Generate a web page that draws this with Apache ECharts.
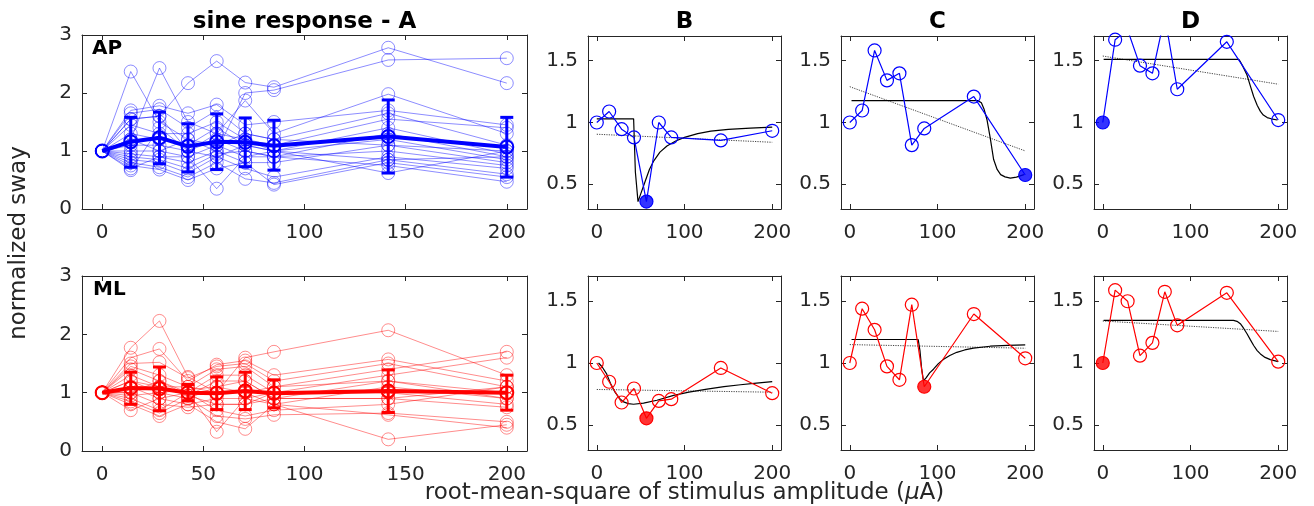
<!DOCTYPE html>
<html><head><meta charset="utf-8">
<script src="https://cdn.jsdelivr.net/npm/echarts@6/dist/echarts.min.js"></script>
<style>html,body{margin:0;padding:0;background:#fff}#c{width:1314px;height:506px}</style>
</head><body><div id="c"></div>
<script>
// ---------------- DATA ----------------
const amplitudes = [0, 14.1, 28.3, 42.4, 56.6, 70.7, 84.9, 141.4, 200];

const apSubjects = [
  [1, 1.55, 1.60, 2.17, 2.55, 2.18, 2.10, 2.78, 2.17],
  [1, 2.37, 1.50, 1.20, 1.00, 2.00, 2.05, 2.57, 2.60],
  [1, 1.20, 2.43, 1.50, 1.30, 1.87, 1.30, 1.98, 1.30],
  [1, 1.70, 1.78, 1.65, 1.80, 1.45, 1.50, 1.70, 1.45],
  [1, 1.65, 1.72, 1.40, 1.70, 1.30, 1.20, 1.65, 1.10],
  [1, 1.45, 1.30, 1.30, 1.50, 1.20, 1.10, 1.55, 1.40],
  [1, 1.30, 1.20, 1.10, 1.40, 1.10, 1.00, 1.40, 0.95],
  [1, 1.10, 1.10, 1.00, 1.20, 1.00, 0.90, 1.30, 0.90],
  [1, 1.00, 1.00, 0.90, 1.10, 0.90, 1.00, 1.20, 0.85],
  [1, 0.95, 0.90, 0.80, 1.00, 0.80, 0.80, 1.10, 0.80],
  [1, 0.90, 0.85, 0.70, 0.95, 1.00, 0.90, 1.00, 0.75],
  [1, 0.85, 0.80, 0.62, 0.90, 0.70, 0.55, 0.90, 0.70],
  [1, 0.80, 0.72, 0.55, 0.80, 0.52, 0.45, 0.85, 0.60],
  [1, 0.75, 0.68, 0.50, 0.70, 0.80, 0.42, 0.80, 0.55],
  [1, 0.70, 0.90, 0.90, 0.35, 0.90, 0.90, 0.75, 0.47],
  [1, 0.67, 1.40, 1.00, 0.90, 1.10, 1.00, 0.62, 1.00],
  [1, 1.55, 1.60, 1.00, 1.30, 1.20, 1.00, 0.85, 0.90],
  [1, 1.20, 1.00, 1.20, 1.10, 1.30, 1.20, 1.10, 1.00]
];
const mlSubjects = [
  [1, 1.77, 2.23, 1.27, 1.00, 1.60, 1.70, 2.07, 1.30],
  [1, 1.60, 1.75, 1.20, 1.48, 1.55, 1.30, 1.57, 1.20],
  [1, 1.50, 1.52, 1.25, 1.45, 1.50, 1.20, 1.50, 1.10],
  [1, 1.45, 1.30, 1.10, 1.40, 1.45, 1.10, 1.40, 1.70],
  [1, 1.40, 1.20, 1.00, 1.30, 1.30, 1.00, 1.30, 1.60],
  [1, 1.30, 1.10, 0.95, 1.20, 1.20, 0.90, 1.20, 1.00],
  [1, 1.20, 1.00, 0.90, 1.10, 1.00, 0.80, 1.10, 0.90],
  [1, 1.10, 0.90, 0.80, 0.90, 0.90, 1.00, 1.00, 0.80],
  [1, 1.00, 0.80, 0.75, 0.80, 0.80, 0.90, 0.90, 0.75],
  [1, 0.90, 0.70, 1.00, 0.70, 0.60, 0.70, 0.80, 1.10],
  [1, 0.85, 0.65, 0.90, 0.60, 0.55, 0.62, 0.65, 0.50],
  [1, 0.80, 0.60, 0.80, 0.50, 0.38, 0.80, 0.62, 0.40],
  [1, 0.70, 0.90, 1.00, 0.33, 0.90, 0.80, 0.20, 0.45],
  [1, 1.20, 1.10, 1.10, 1.00, 1.00, 1.10, 1.20, 0.90],
  [1, 1.00, 1.20, 0.95, 0.80, 0.80, 1.00, 1.00, 1.00],
  [1, 0.95, 1.00, 1.05, 1.10, 1.20, 0.90, 0.90, 1.10]
];

const apMean  = [1, 1.16, 1.23, 1.08, 1.16, 1.15, 1.09, 1.25, 1.07];
const apUpper = [null, 1.58, 1.67, 1.47, 1.64, 1.57, 1.53, 1.88, 1.58];
const apLower = [null, 0.72, 0.78, 0.64, 0.68, 0.73, 0.67, 0.62, 0.55];
const mlMean  = [1, 1.08, 1.07, 1.00, 0.99, 1.03, 0.99, 1.03, 1.00];
const mlUpper = [null, 1.35, 1.44, 1.14, 1.27, 1.35, 1.22, 1.39, 1.30];
const mlLower = [null, 0.80, 0.69, 0.86, 0.71, 0.71, 0.74, 0.66, 0.70];

// example subjects (B, C, D)
const exB_AP = [1.00, 1.089, 0.946, 0.879, 0.36, 1.00, 0.879, 0.855, 0.933];
const exC_AP = [1.00, 1.097, 1.583, 1.341, 1.398, 0.817, 0.952, 1.21, 0.575];
const exD_AP = [1.00, 1.67, 1.75, 1.46, 1.398, 1.86, 1.269, 1.653, 1.02];
const exB_ML = [1.00, 0.849, 0.682, 0.795, 0.555, 0.695, 0.709, 0.96, 0.757];
const exC_ML = [1.00, 1.437, 1.267, 0.973, 0.865, 1.469, 0.809, 1.394, 1.038];
const exD_ML = [1.00, 1.586, 1.497, 1.059, 1.162, 1.573, 1.303, 1.565, 1.011];
const filledIdx = {B_AP: 4, C_AP: 8, D_AP: 0, B_ML: 4, C_ML: 6, D_ML: 0};

// fitted curves ([amplitude, sway])
const fitB_AP = [[0,1.03],[42,1.03],[44,0.6],[47,0.36],[50,0.42],[55,0.52],[60,0.62],[65,0.69],[72,0.76],[80,0.81],[90,0.85],[100,0.88],[115,0.91],[130,0.93],[150,0.945],[175,0.955],[200,0.962]];
const fitC_AP = [[2,1.177],[146,1.177],[150,1.16],[153,1.11],[156.5,1.02],[160,0.88],[164,0.70],[168,0.62],[172,0.578],[177,0.56],[183,0.55],[190,0.558],[198.5,0.578]];
const fitD_AP = [[1,1.511],[155,1.511],[157,1.49],[160,1.45],[164.4,1.384],[168,1.30],[172,1.21],[176,1.14],[179.7,1.09],[183,1.06],[187.4,1.04],[192,1.03],[199,1.02]];
const fitB_ML = [[2,1.0],[6,0.97],[11.4,0.91],[16,0.83],[21,0.763],[26,0.715],[30.5,0.687],[36,0.673],[41.9,0.668],[53.3,0.677],[68.6,0.70],[87.6,0.74],[105,0.765],[125.7,0.79],[145,0.81],[163.8,0.825],[182,0.838],[200,0.85]];
const fitC_ML = [[2,1.189],[78,1.189],[80,1.10],[82,0.95],[84,0.857],[87,0.88],[91,0.92],[95.4,0.95],[101,0.995],[107,1.03],[114,1.06],[122,1.086],[131,1.105],[141,1.12],[160,1.135],[180,1.142],[200,1.146]];
const fitD_ML = [[1,1.343],[149,1.343],[153,1.335],[156.8,1.316],[160.5,1.28],[164.4,1.235],[168,1.19],[172,1.141],[176,1.10],[179.7,1.073],[185,1.045],[191,1.027],[200,1.011]];

// linear trends ([amplitude, sway] end points)
const trendB_AP = [[0,0.905],[200,0.84]];
const trendC_AP = [[0,1.29],[200,0.77]];
const trendD_AP = [[0,1.538],[200,1.31]];
const trendB_ML = [[0,0.787],[200,0.765]];
const trendC_ML = [[0,1.148],[200,1.119]];
const trendD_ML = [[0,1.338],[200,1.254]];

const xTicksA = [0, 50, 100, 150, 200];
const yTicksA = [0, 1, 2, 3];
const xTicksEx = [0, 100, 200];
const yTicksEx = [0.5, 1, 1.5];

// ---------------- CHART ----------------
const FONT = '"DejaVu Sans", sans-serif';
const AX = '#262626';
const BLUE = '#0000ff', RED = '#ff0000';
const BLUE_L = 'rgba(0,0,255,0.45)', RED_L = 'rgba(255,0,0,0.45)';
const grids = [], xAxes = [], yAxes = [], series = [];

function addPanel(rect, xr, xt, yr, yt) {
  const gi = grids.length;
  grids.push({left: rect[0], top: rect[1], width: rect[2], height: rect[3]});
  const tick = {inside: true, length: 5, lineStyle: {color: AX, width: 1}};
  const line = {show: true, onZero: false, lineStyle: {color: AX, width: 1}};
  const lab = {color: AX, fontSize: 20, fontFamily: FONT};
  xAxes.push({gridIndex: gi, type: 'value', position: 'bottom', min: xr[0], max: xr[1], axisLine: line, splitLine: {show: false},
    axisTick: Object.assign({}, tick, {customValues: xt}), axisLabel: Object.assign({}, lab, {margin: 14, customValues: xt})});
  xAxes.push({gridIndex: gi, type: 'value', position: 'top', min: xr[0], max: xr[1], axisLine: line, splitLine: {show: false},
    axisTick: Object.assign({}, tick, {customValues: xt}), axisLabel: {show: false}});
  yAxes.push({gridIndex: gi, type: 'value', position: 'left', min: yr[0], max: yr[1], axisLine: line, splitLine: {show: false},
    axisTick: Object.assign({}, tick, {customValues: yt}), axisLabel: Object.assign({}, lab, {margin: 10, customValues: yt})});
  yAxes.push({gridIndex: gi, type: 'value', position: 'right', min: yr[0], max: yr[1], axisLine: line, splitLine: {show: false},
    axisTick: Object.assign({}, tick, {customValues: yt}), axisLabel: {show: false}});
  return 2 * gi;
}

function pts(ys) { return amplitudes.map((x, i) => [x, ys[i]]); }

function groupPanel(rect, subjects, mean, lower, upper, light, dark) {
  const ai = addPanel(rect, [-10, 210], xTicksA, [0, 3], yTicksA);
  subjects.forEach(s => series.push({
    type: 'line', xAxisIndex: ai, yAxisIndex: ai, data: pts(s), symbol: 'circle', symbolSize: 13,
    itemStyle: {color: 'rgba(0,0,0,0)', borderColor: light, borderWidth: 1}, lineStyle: {color: light, width: 1},
    z: 2, silent: true
  }));
  series.push({
    type: 'custom', xAxisIndex: ai, yAxisIndex: ai, z: 4, silent: true,
    data: amplitudes.map((x, i) => [x, lower[i], upper[i]]).filter(d => d[1] != null),
    encode: {x: 0, y: [1, 2]},
    renderItem: (params, api) => {
      const x = api.value(0);
      const a = api.coord([x, api.value(1)]), b = api.coord([x, api.value(2)]);
      const hw = 6.5, st = {stroke: dark, lineWidth: 3};
      return {type: 'group', children: [
        {type: 'line', shape: {x1: a[0], y1: a[1], x2: b[0], y2: b[1]}, style: st},
        {type: 'line', shape: {x1: a[0] - hw, y1: a[1], x2: a[0] + hw, y2: a[1]}, style: st},
        {type: 'line', shape: {x1: b[0] - hw, y1: b[1], x2: b[0] + hw, y2: b[1]}, style: st}
      ]};
    }
  });
  series.push({
    type: 'line', xAxisIndex: ai, yAxisIndex: ai, data: pts(mean), symbol: 'circle', symbolSize: 13,
    itemStyle: {color: 'rgba(0,0,0,0)', borderColor: dark, borderWidth: 2}, lineStyle: {color: dark, width: 4},
    z: 5, silent: true
  });
}

function examplePanel(rect, ys, fit, trend, fIdx, col) {
  const ai = addPanel(rect, [-10, 210], xTicksEx, [0.3, 1.7], yTicksEx);
  series.push({type: 'line', xAxisIndex: ai, yAxisIndex: ai, data: trend, symbol: 'none',
    lineStyle: {color: '#444', width: 1, type: [1.2, 1.2]}, z: 2, silent: true});
  series.push({type: 'line', xAxisIndex: ai, yAxisIndex: ai, data: fit, symbol: 'none',
    lineStyle: {color: '#000', width: 1.2}, z: 3, silent: true});
  series.push({type: 'line', xAxisIndex: ai, yAxisIndex: ai, data: pts(ys), symbol: 'circle', symbolSize: 13,
    itemStyle: {color: 'rgba(0,0,0,0)', borderColor: col, borderWidth: 1.2}, lineStyle: {color: col, width: 1.2}, z: 4, silent: true});
  series.push({type: 'scatter', xAxisIndex: ai, yAxisIndex: ai, data: [[amplitudes[fIdx], ys[fIdx]]], symbol: 'circle', symbolSize: 13,
    itemStyle: {color: col}, z: 5, silent: true});
}

groupPanel([82, 35, 445, 174], apSubjects, apMean, apLower, apUpper, BLUE_L, BLUE);
groupPanel([82, 276, 445, 175], mlSubjects, mlMean, mlLower, mlUpper, RED_L, RED);
examplePanel([588, 36, 193, 173], exB_AP, fitB_AP, trendB_AP, filledIdx.B_AP, BLUE);
examplePanel([841, 36, 193, 173], exC_AP, fitC_AP, trendC_AP, filledIdx.C_AP, BLUE);
examplePanel([1094, 36, 193, 173], exD_AP, fitD_AP, trendD_AP, filledIdx.D_AP, BLUE);
examplePanel([588, 276, 193, 174], exB_ML, fitB_ML, trendB_ML, filledIdx.B_ML, RED);
examplePanel([841, 276, 193, 174], exC_ML, fitC_ML, trendC_ML, filledIdx.C_ML, RED);
examplePanel([1094, 276, 193, 174], exD_ML, fitD_ML, trendD_ML, filledIdx.D_ML, RED);

function txt(x, y, text, opts) {
  return Object.assign({type: 'text', x: x, y: y, silent: true, style: Object.assign({
    text: text, fill: '#000', font: '23px ' + FONT, align: 'center', verticalAlign: 'middle'
  }, opts || {})});
}
const graphics = [
  txt(304.5, 22, 'sine response - A', {font: 'bold 23px ' + FONT}),
  txt(684.5, 22, 'B', {font: 'bold 23px ' + FONT}),
  txt(937.5, 22, 'C', {font: 'bold 23px ' + FONT}),
  txt(1190.5, 22, 'D', {font: 'bold 23px ' + FONT}),
  txt(92, 49, 'AP', {font: 'bold 20px ' + FONT, align: 'left'}),
  txt(93, 290, 'ML', {font: 'bold 20px ' + FONT, align: 'left'}),
  txt(684.5, 493, 'root-mean-square of stimulus amplitude ({i|μ}A)', {fill: '#262626',
    rich: {i: {fontStyle: 'italic', fontSize: 23, fontFamily: FONT, fill: '#262626'}}}),
  Object.assign(txt(19, 243, 'normalized sway', {fill: '#262626'}), {rotation: Math.PI / 2})
];

const chart = echarts.init(document.getElementById('c'), null, {renderer: 'canvas'});
chart.setOption({
  animation: false,
  backgroundColor: '#fff',
  grid: grids, xAxis: xAxes, yAxis: yAxes, series: series,
  graphic: graphics
});
</script></body></html>
